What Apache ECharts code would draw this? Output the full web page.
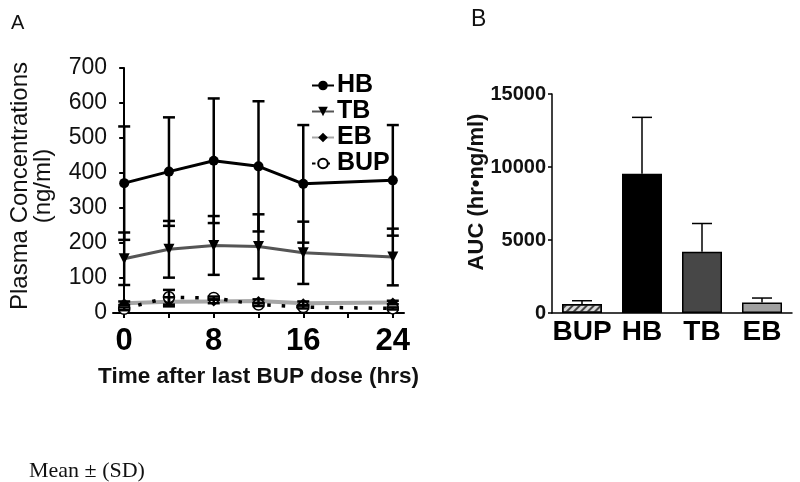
<!DOCTYPE html>
<html>
<head>
<meta charset="utf-8">
<script src="https://cdn.jsdelivr.net/npm/echarts@6/dist/echarts.min.js"></script>
<style>html,body{margin:0;padding:0;background:#fff}#c{width:800px;height:482px}</style>
</head>
<body>
<div id="c"></div>
<script>
// ---- Panel A data: plasma concentration (ng/ml) vs time (hrs) ----
var times = [0, 4, 8, 12, 16, 24];
var hbMean = [371, 404, 435, 419, 369, 379];
var hbSD   = [162, 155, 178, 186, 168, 158];
var tbMean = [155, 182, 193, 190, 172, 160];
var tbSD   = [75, 81, 84, 92, 89, 81];
var ebMean = [28, 32, 33, 34, 28, 30];
var ebSD   = [5, 13, 5, 5, 5, 5];
var bupMean = [12, 45, 43, 24, 17, 13];
var bupSD   = [4, 21, 4, 4, 4, 3];
var xTickValues = [0, 4, 8, 12, 16, 20, 24];
var xLabelValues = [0, 8, 16, 24];

// ---- Panel B data: AUC (hr*ng/ml) ----
var aucCats = ['BUP', 'HB', 'TB', 'EB'];
var aucMean = [615, 9530, 4190, 725];
var aucSD   = [225, 3870, 1940, 300];

var FONT = 'Liberation Sans, Arial, Helvetica, sans-serif';

function pairs(xs, ys) { return xs.map(function (x, i) { return [x, ys[i]]; }); }
function errData(xs, m, s) { return xs.map(function (x, i) { return [x, m[i] - s[i], m[i] + s[i]]; }); }

function errRenderA(params, api) {
  var x = api.value(0), lo = api.value(1), hi = api.value(2);
  var a = api.coord([x, lo]), b = api.coord([x, hi]);
  var hw = 6;
  var st = { stroke: '#000', lineWidth: 2.5 };
  return { type: 'group', children: [
    { type: 'line', shape: { x1: a[0], y1: a[1], x2: b[0], y2: b[1] }, style: st },
    { type: 'line', shape: { x1: a[0] - hw, y1: a[1], x2: a[0] + hw, y2: a[1] }, style: st },
    { type: 'line', shape: { x1: b[0] - hw, y1: b[1], x2: b[0] + hw, y2: b[1] }, style: st }
  ] };
}
function errRenderB(params, api) {
  var x = api.value(0), v = api.value(1), hi = api.value(2);
  var a = api.coord([x, v]), b = api.coord([x, hi]);
  var hw = 10;
  var st = { stroke: '#000', lineWidth: 1.5 };
  return { type: 'group', children: [
    { type: 'line', shape: { x1: a[0], y1: a[1], x2: b[0], y2: b[1] }, style: st },
    { type: 'line', shape: { x1: b[0] - hw, y1: b[1], x2: b[0] + hw, y2: b[1] }, style: st }
  ] };
}

var chart = echarts.init(document.getElementById('c'), null, { renderer: 'canvas' });
var option = {
  animation: false,
  backgroundColor: '#fff',
  textStyle: { fontFamily: FONT },
  title: [
    { text: 'A', left: 6, top: 8, textStyle: { fontFamily: FONT, fontSize: 20, fontWeight: 'normal', color: '#111' } },
    { text: 'B', left: 466, top: 3, textStyle: { fontFamily: FONT, fontSize: 23, fontWeight: 'normal', color: '#111' } },
    { text: 'Mean ± (SD)', left: 24, top: 455, textStyle: { fontFamily: 'Liberation Serif, Times New Roman, serif', fontSize: 22, fontWeight: 'normal', color: '#111' } }
  ],
  graphic: [
    { type: 'text', x: 20, y: 186, rotation: Math.PI / 2,
      style: { text: 'Plasma Concentrations', align: 'center', verticalAlign: 'middle', font: '24px ' + FONT, fill: '#111' } },
    { type: 'text', x: 43, y: 186, rotation: Math.PI / 2,
      style: { text: '(ng/ml)', align: 'center', verticalAlign: 'middle', font: '24px ' + FONT, fill: '#111' } },
    { type: 'text', x: 477, y: 192, rotation: Math.PI / 2,
      style: { text: 'AUC (hr•ng/ml)', align: 'center', verticalAlign: 'middle', font: 'bold 22px ' + FONT, fill: '#111' } }
  ],
  legend: {
    orient: 'vertical', left: 306, top: 68,
    itemWidth: 22, itemHeight: 12, itemGap: 1,
    data: ['HB', 'TB', 'EB', 'BUP'],
    textStyle: { fontFamily: FONT, fontSize: 25, fontWeight: 'bold', color: '#000', lineHeight: 20, padding: [0, 0, 0, -2] }
  },
  grid: [
    { left: 113, top: 68, width: 291, height: 245 },
    { left: 552, top: 94, width: 240, height: 219 }
  ],
  xAxis: [
    { gridIndex: 0, type: 'value', min: -1, max: 25,
      axisLine: { lineStyle: { color: '#000', width: 2 } },
      axisTick: { show: true, length: 5, lineStyle: { color: '#000', width: 2 }, customValues: xTickValues },
      axisLabel: { customValues: xLabelValues, fontFamily: FONT, fontSize: 31, fontWeight: 'bold', color: '#000', margin: 13 },
      splitLine: { show: false },
      name: 'Time after last BUP dose (hrs)', nameLocation: 'middle', nameGap: 52,
      nameTextStyle: { fontFamily: FONT, fontSize: 22.5, fontWeight: 'bold', color: '#111' } },
    { gridIndex: 1, type: 'category', data: aucCats,
      axisLine: { lineStyle: { color: '#000', width: 1.5 } },
      axisTick: { show: false },
      axisLabel: { fontFamily: FONT, fontSize: 28, fontWeight: 'bold', color: '#000', margin: 5, interval: 0 } }
  ],
  yAxis: [
    { gridIndex: 0, type: 'value', min: 0, max: 700, interval: 100,
      axisLine: { show: true, lineStyle: { color: '#000', width: 2 } },
      axisTick: { show: true, length: 5, lineStyle: { color: '#000', width: 2 } },
      axisLabel: { fontFamily: FONT, fontSize: 23, color: '#111', margin: 6 },
      splitLine: { show: false } },
    { gridIndex: 1, type: 'value', min: 0, max: 15000, interval: 5000,
      axisLine: { show: true, lineStyle: { color: '#000', width: 1.5 } },
      axisTick: { show: true, length: 4, lineStyle: { color: '#000', width: 1.5 } },
      axisLabel: { fontFamily: FONT, fontSize: 20, fontWeight: 'bold', color: '#111', margin: 6,
        formatter: function (v) { return String(v); } },
      splitLine: { show: false } }
  ],
  series: [
    { name: 'EB', type: 'line', xAxisIndex: 0, yAxisIndex: 0, data: pairs(times, ebMean),
      symbol: 'diamond', symbolSize: 10, itemStyle: { color: '#000' },
      lineStyle: { color: '#a6a6a6', width: 4 }, z: 3 },
    { name: 'BUP', type: 'line', xAxisIndex: 0, yAxisIndex: 0, data: pairs(times, bupMean),
      symbol: 'circle', symbolSize: 11, itemStyle: { color: '#fff', borderColor: '#000', borderWidth: 1.5 },
      lineStyle: { color: '#000', width: 3.5, type: [3.5, 11] }, z: 4 },
    { name: 'TB', type: 'line', xAxisIndex: 0, yAxisIndex: 0, data: pairs(times, tbMean),
      symbol: 'triangle', symbolRotate: 180, symbolSize: 11, itemStyle: { color: '#000' },
      lineStyle: { color: '#555', width: 3 }, z: 4 },
    { name: 'HB', type: 'line', xAxisIndex: 0, yAxisIndex: 0, data: pairs(times, hbMean),
      symbol: 'circle', symbolSize: 10, itemStyle: { color: '#000' },
      lineStyle: { color: '#000', width: 3 }, z: 5 },
    { name: 'HB SD', type: 'custom', xAxisIndex: 0, yAxisIndex: 0, renderItem: errRenderA,
      data: errData(times, hbMean, hbSD), encode: { x: 0, y: [1, 2] }, z: 6 },
    { name: 'TB SD', type: 'custom', xAxisIndex: 0, yAxisIndex: 0, renderItem: errRenderA,
      data: errData(times, tbMean, tbSD), encode: { x: 0, y: [1, 2] }, z: 6 },
    { name: 'EB SD', type: 'custom', xAxisIndex: 0, yAxisIndex: 0, renderItem: errRenderA,
      data: errData(times, ebMean, ebSD), encode: { x: 0, y: [1, 2] }, z: 6 },
    { name: 'BUP SD', type: 'custom', xAxisIndex: 0, yAxisIndex: 0, renderItem: errRenderA,
      data: errData(times, bupMean, bupSD), encode: { x: 0, y: [1, 2] }, z: 6 },
    { name: 'AUC', type: 'bar', xAxisIndex: 1, yAxisIndex: 1, barWidth: 40,
      data: aucMean.map(function (v, i) {
        var styles = [
          { color: '#d8d8d8', borderColor: '#000', borderWidth: 1.5,
            decal: { symbol: 'rect', symbolSize: 1, color: '#444', dashArrayX: [1, 0], dashArrayY: [2, 3], rotation: -Math.PI / 4 } },
          { color: '#000', borderColor: '#000', borderWidth: 1.5 },
          { color: '#474747', borderColor: '#000', borderWidth: 1.5 },
          { color: '#a0a0a0', borderColor: '#000', borderWidth: 1.5 }
        ];
        return { value: v, itemStyle: styles[i] };
      }) },
    { name: 'AUC SD', type: 'custom', xAxisIndex: 1, yAxisIndex: 1, renderItem: errRenderB,
      data: aucMean.map(function (v, i) { return [i, v, v + aucSD[i]]; }), encode: { x: 0, y: [1, 2] }, z: 1 }
  ]
};
chart.setOption(option);
</script>
</body>
</html>
